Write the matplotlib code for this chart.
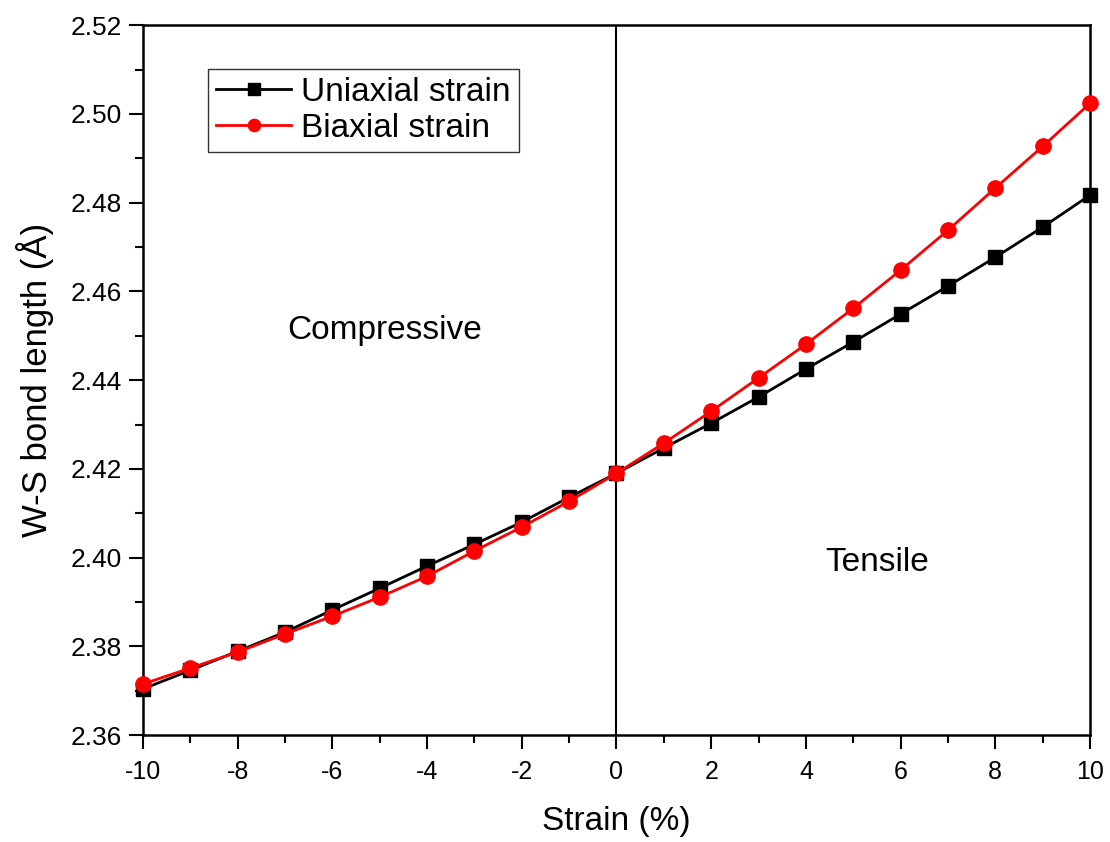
import matplotlib
matplotlib.use("Agg")
import matplotlib.pyplot as plt
from matplotlib.ticker import MultipleLocator, FormatStrFormatter

strain = [-10, -9, -8, -7, -6, -5, -4, -3, -2, -1, 0, 1, 2, 3, 4, 5, 6, 7, 8, 9, 10]
uniaxial = [2.3704, 2.3746, 2.3789, 2.3832, 2.3882, 2.3931, 2.3981, 2.4030, 2.4080, 2.4136,
            2.4190, 2.4247, 2.4303, 2.4362, 2.4425, 2.4486, 2.4549, 2.4612, 2.4677, 2.4745, 2.4817]
biaxial = [2.3715, 2.3751, 2.3787, 2.3828, 2.3868, 2.3911, 2.3958, 2.4015, 2.4069, 2.4127,
           2.4190, 2.4258, 2.4330, 2.4405, 2.4481, 2.4562, 2.4648, 2.4738, 2.4833, 2.4927, 2.5024]

plt.rcParams['font.family'] = ['Liberation Sans', 'DejaVu Sans']
plt.rcParams['axes.unicode_minus'] = False

fig = plt.figure(figsize=(11.1, 8.42), dpi=100)
ax = fig.add_axes([0.1288, 0.127, 0.8532, 0.843])

ax.plot(strain, uniaxial, color='black', marker='s', markersize=10, linewidth=2.0,
        label='Uniaxial strain', clip_on=False, zorder=3)
ax.plot(strain, biaxial, color='red', marker='o', markersize=11, linewidth=2.0,
        label='Biaxial strain', clip_on=False, zorder=4)
ax.axvline(0, color='black', linewidth=1.5, zorder=2)

ax.set_xlim(-10, 10)
ax.set_ylim(2.36, 2.52)
ax.xaxis.set_major_locator(MultipleLocator(2))
ax.xaxis.set_minor_locator(MultipleLocator(1))
ax.yaxis.set_major_locator(MultipleLocator(0.02))
ax.yaxis.set_minor_locator(MultipleLocator(0.01))
ax.yaxis.set_major_formatter(FormatStrFormatter('%.2f'))
ax.tick_params(which='major', direction='out', length=10, width=1.5, labelsize=18)
ax.tick_params(axis='y', which='major', labelsize=19, pad=5)
ax.tick_params(axis='x', which='major', pad=8)
ax.tick_params(which='minor', direction='out', length=6, width=1.5)
for s in ax.spines.values():
    s.set_linewidth(1.8)

ax.set_xlabel('Strain (%)', fontsize=24, labelpad=16)
ax.set_ylabel('W-S bond length (Å)', fontsize=25, labelpad=12)

ax.text(-4.9, 2.4513, 'Compressive', fontsize=24, ha='center', va='center')
ax.text(5.5, 2.399, 'Tensile', fontsize=24, ha='center', va='center')

leg = ax.legend(loc='upper left', bbox_to_anchor=(0.0686, 0.939), borderaxespad=0,
                fontsize=24, frameon=True, fancybox=False, edgecolor='black',
                handlelength=2.25, borderpad=0.25, labelspacing=0.15,
                handletextpad=0.3, markerscale=0.8)
leg.get_frame().set_linewidth(1.0)

fig.savefig('out.png', dpi=100, facecolor='white')
